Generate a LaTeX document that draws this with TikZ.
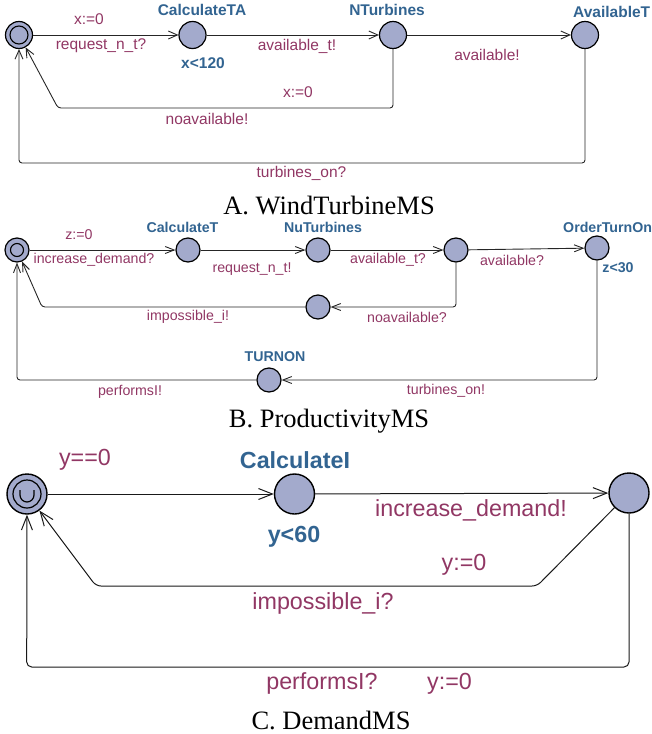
\documentclass[tikz,border=0pt]{standalone}
\usepackage{fontspec}
\setmainfont{Liberation Serif}
\setsansfont{Liberation Sans}
\usetikzlibrary{arrows.meta}
\definecolor{locfill}{RGB}{163,170,204}
\definecolor{locname}{RGB}{50,100,145}
\definecolor{lbl}{RGB}{145,55,100}
\tikzset{
  locA/.style={circle,draw,line width=1.2pt,fill=locfill,inner sep=0,minimum size=27pt},
  locB/.style={circle,draw,line width=1.2pt,fill=locfill,inner sep=0,minimum size=24pt},
  locC/.style={circle,draw,line width=1.4pt,fill=locfill,inner sep=0,minimum size=40pt},
  fA/.style={font=\sffamily\fontsize{15.5}{18}\selectfont},
  fB/.style={font=\sffamily\fontsize{14.2}{17}\selectfont},
  fC/.style={font=\sffamily\fontsize{23.3}{27}\selectfont},
  nmA/.style={text=locname,font=\sffamily\bfseries\fontsize{15.5}{18}\selectfont,inner sep=0},
  nmB/.style={text=locname,font=\sffamily\bfseries\fontsize{14.2}{17}\selectfont,inner sep=0},
  nmC/.style={text=locname,font=\sffamily\bfseries\fontsize{23.3}{27}\selectfont,inner sep=0},
  lbA/.style={fA,text=lbl,inner sep=0},
  lbB/.style={fB,text=lbl,inner sep=0},
  lbC/.style={fC,text=lbl,inner sep=0},
  edgeA/.style={line width=0.9pt,draw=black!85,rounded corners=3pt,-{Straight Barb[length=9pt,width=8pt,line width=0.9pt]}},
  edgeB/.style={line width=0.9pt,draw=black!85,rounded corners=3pt,-{Straight Barb[length=9pt,width=7pt,line width=0.9pt]}},
  edgeC/.style={line width=1pt,draw=black!90,rounded corners=5pt,-{Straight Barb[length=14pt,width=11pt,line width=1pt]}},
  captxt/.style={font=\fontsize{26.5}{30}\selectfont,inner sep=0},
}
\begin{document}
\begin{tikzpicture}[x=1pt,y=-1pt]
\useasboundingbox (0,0) rectangle (652,734);
\clip (0,0) rectangle (652,734);
% ---------------- Panel A ----------------
\node[locA] (a0) at (19,35) {};
\draw[line width=1.1pt] (a0.center) circle[radius=9];
\node[locA] (a1) at (192.5,35) {};
\node[locA] (a2) at (393,35) {};
\node[locA] (a3) at (585,35) {};
\coordinate (ka1) at (58,108);
\coordinate (ka2) at (19,163);
\draw[edgeA] (a0) -- (a1);
\draw[edgeA] (a1) -- (a2);
\draw[edgeA] (a2) -- (a3);
\draw[edgeA] (a2) |- (ka1) -- (a0);
\draw[edgeA] (a3) |- (ka2) -- (a0);
\node[nmA] (na1) at (202,10) {CalculateTA};
\node[nmA] (ia1) at (203,63) {x<120};
\node[nmA] (na2) at (387,10) {NTurbines};
\node[nmA,anchor=west] (na3) at (573,12) {AvailableT};
\node[lbA] (la1) at (89,19) {x:=0};
\node[lbA] (la2) at (101,46) {request\_n\_t?};
\node[lbA] (la3) at (297,46) {available\_t!};
\node[lbA] (la4) at (487,55) {available!};
\node[lbA] (la5) at (298,92) {x:=0};
\node[lbA] (la6) at (207,119) {noavailable!};
\node[lbA] (la7) at (301.5,173) {turbines\_on?};
\node[captxt] (capA) at (329,205.7) {A. WindTurbineMS};
% ---------------- Panel B ----------------
\node[locB] (b0) at (17,250) {};
\draw[line width=1.1pt] (b0.center) circle[radius=6.5];
\node[locB] (b1) at (188,250) {};
\node[locB] (b2) at (318,250) {};
\node[locB] (b3) at (456,250) {};
\node[locB] (b4) at (597,248) {};
\node[locB] (b5) at (318,307) {};
\node[locB] (b6) at (269,380) {};
\coordinate (kb1) at (42,307);
\draw[edgeB] (b0) -- (b1);
\draw[edgeB] (b1) -- (b2);
\draw[edgeB] (b2) -- (b3);
\draw[edgeB] (b3) -- (b4);
\draw[edgeB] (b3) |- (b5);
\draw[edgeB] (b5) -- (kb1) -- (b0);
\draw[edgeB] (b4) |- (b6);
\draw[edgeB] (b6) -| (b0);
\node[nmB] (nb1) at (182.5,227) {CalculateT};
\node[nmB] (nb2) at (323,227) {NuTurbines};
\node[nmB,anchor=west] (nb4) at (563,227) {OrderTurnOn};
\node[nmB] (ib4) at (618,268) {z<30};
\node[nmB] (nb6) at (275,357) {TURNON};
\node[lbB] (lb1) at (79,235) {z:=0};
\node[lbB] (lb2) at (94,260) {increase\_demand?};
\node[lbB] (lb3) at (252,269) {request\_n\_t!};
\node[lbB] (lb4) at (388,260) {available\_t?};
\node[lbB] (lb5) at (512,260) {available?};
\node[lbB] (lb6) at (407,317) {noavailable?};
\node[lbB] (lb7) at (188,317) {impossible\_i!};
\node[lbB] (lb8) at (446,391) {turbines\_on!};
\node[lbB] (lb9) at (130,392) {performsI!};
\node[captxt] (capB) at (329,420.7) {B. ProductivityMS};
% ---------------- Panel C ----------------
\node[locC] (c0) at (27,494) {};
\draw[line width=1.2pt] (c0.center) circle[radius=14];
\draw[line width=1.2pt] (c0.center) ++(-7,-4) -- ++(0,5) arc[start angle=180,end angle=0,radius=7] -- ++(0,-5);
\node[locC] (c1) at (294.5,494) {};
\node[locC] (c2) at (629,493) {};
\coordinate (kc1) at (537,586);
\coordinate (kc2) at (96,586);
\coordinate (kc3) at (26.7,667);
\draw[edgeC] (c0) -- (c1);
\draw[edgeC] (c1) -- (c2);
\draw[edgeC] (c2) -- (kc1) -- (kc2) -- (c0);
\draw[edgeC] (c2) |- (kc3) -- (c0);
\node[nmC] (nc1) at (295,460) {CalculateI};
\node[nmC] (ic1) at (294,537) {y<60};
\node[lbC] (lc1) at (85,460) {y==0};
\node[lbC] (lc2) at (471,510) {increase\_demand!};
\node[lbC] (lc3) at (464,565) {y:=0};
\node[lbC] (lc4) at (323,603) {impossible\_i?};
\node[lbC] (lc5) at (322,683) {performsI?};
\node[lbC] (lc6) at (449.5,684) {y:=0};
\node[captxt] (capC) at (331,720) {C. DemandMS};
\end{tikzpicture}
\end{document}
